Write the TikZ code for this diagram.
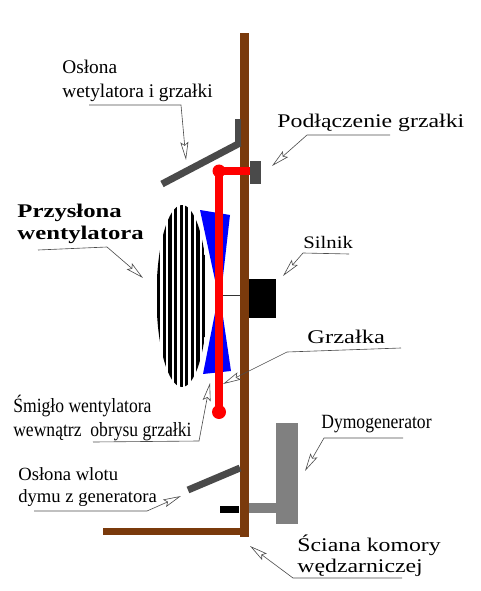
\documentclass[tikz,border=0pt]{standalone}
\usepackage{fontspec}
\setmainfont{Liberation Serif}
\usepackage{xcolor}
\usetikzlibrary{arrows.meta, positioning}
\definecolor{wallcol}{HTML}{7A3A0C}
\definecolor{shieldcol}{HTML}{4A4A4A}
\definecolor{gencol}{HTML}{808080}
\begin{document}
\begin{tikzpicture}[
    x=0.02cm, y=-0.02cm,
    lab/.style={anchor=base west, inner sep=0pt, font=\fontsize{10}{12}\selectfont},
    biglab/.style={lab, font=\fontsize{11}{13}\selectfont},
    widelab/.style={lab, font=\fontsize{11}{13}\selectfont, xscale=1.23},
    tall/.style={lab, font=\fontsize{11.5}{14}\selectfont, xscale=0.87},
    leader/.style={draw=black!70, line width=0.35pt, -{Stealth[fill=white, length=3.6mm, width=1.6mm, inset=0.6mm, line width=0.35pt]}},
    shield/.style={draw=shieldcol, line width=0.14cm},
    heater/.style={draw=red, line width=0.17cm},
    part/.style={rectangle, inner sep=0pt, anchor=north west}
]
\useasboundingbox (0,0) rectangle (480,591);
% fan shutter and blade
\fill[blue] (200,210) -- (230,215) -- (222,285) -- (215,280) -- cycle;
\fill[blue] (203,374) -- (231,371) -- (222,310) -- (215,313) -- cycle;
\draw[white, line width=0.06cm] (182,296) ellipse (26.5 and 92.5);
\begin{scope}
\clip (182,296) ellipse (25.5 and 91);
\foreach \i in {0,...,9} \fill (157.2+5.6*\i,200) rectangle ++(3.1,192);
\end{scope}
% shaft
\coordinate (shaftL) at (223,295);
\coordinate (shaftR) at (240,295);
\draw[black!80, line width=0.4pt] (shaftL) -- (shaftR);
% walls
\node[part, fill=wallcol, minimum width=0.18cm, minimum height=10.08cm] (wall) at (240,33) {};
\node[part, fill=wallcol, minimum width=2.74cm, minimum height=0.14cm] (floor) at (103,528) {};
% shields
\coordinate (shieldA) at (162,184);
\coordinate (shieldB) at (240,143);
\coordinate (shieldC) at (188,490);
\coordinate (shieldD) at (240,468);
\draw[shield] (shieldA) -- (shieldB);
\draw[shield] (shieldC) -- (shieldD);
\node[part, fill=shieldcol, minimum width=0.11cm, minimum height=0.54cm] (shieldtop) at (235,119) {};
% heater
\node[part, fill=shieldcol, minimum width=0.22cm, minimum height=0.46cm] (socket) at (250,161) {};
\coordinate (heatT) at (219,171);
\coordinate (heatB) at (219,412);
\coordinate (heatS) at (250,171);
\draw[heater] (heatS) -- (heatT) -- (heatB);
\fill[red] (heatT) circle (6.5);
\fill[red] (heatB) circle (7);
% motor and generator
\node[part, fill=black, minimum width=0.54cm, minimum height=0.78cm] (motor) at (249,279) {};
\node[part, fill=gencol, minimum width=0.44cm, minimum height=2.02cm] (generator) at (276,423) {};
\node[part, fill=gencol, minimum width=0.54cm, minimum height=0.2cm] (pipe) at (249,503) {};
\node[part, fill=black, minimum width=0.38cm, minimum height=0.13cm] (inlet) at (220,506) {};
% labels
\node[biglab] (oslonaA) at (62,74) {Osłona};
\node[biglab] (oslonaB) at (62,98) {wetylatora i grzałki};
\node[widelab, xscale=1.04] (przyslA) at (17,217) {\textbf{Przysłona}};
\node[widelab, xscale=1.04] (przyslB) at (17,239) {\textbf{wentylatora}};
\node[widelab] (podl) at (277,128) {Podłączenie grzałki};
\node[lab, xscale=1.18] (silnik) at (303,248) {Silnik};
\node[widelab, xscale=1.03] (grzalka) at (307,343) {Grzałka};
\node[tall] (smigloA) at (13,412) {Śmigło wentylatora};
\node[tall] (smigloB) at (13,436) {wewnątrz\ \ obrysu grzałki};
\node[lab, font=\fontsize{10.6}{13}\selectfont] (wlotA) at (18,480) {Osłona wlotu};
\node[lab, font=\fontsize{10.6}{13}\selectfont] (wlotB) at (18,502) {dymu z generatora};
\node[tall] (dymo) at (321,428) {Dymogenerator};
\node[widelab] (scianaA) at (297,551) {Ściana komory};
\node[widelab] (scianaB) at (297,572) {wędzarniczej};
% leaders
\coordinate (l1a) at (89,105);  \coordinate (l1b) at (181,105); \coordinate (l1c) at (186,160);
\coordinate (l2a) at (38,250);  \coordinate (l2b) at (107,247); \coordinate (l2c) at (143,278);
\coordinate (l3a) at (390,135); \coordinate (l3b) at (307,135); \coordinate (l3c) at (272,166);
\coordinate (l4a) at (349,254); \coordinate (l4b) at (303,253); \coordinate (l4c) at (283,276);
\coordinate (l5a) at (401,348); \coordinate (l5b) at (287,352); \coordinate (l5c) at (223,384);
\coordinate (l6a) at (93,442);  \coordinate (l6b) at (199,441); \coordinate (l6c) at (210,383);
\coordinate (l7a) at (34,511);  \coordinate (l7b) at (147,511); \coordinate (l7c) at (181,496);
\coordinate (l8a) at (403,438); \coordinate (l8b) at (324,438); \coordinate (l8c) at (305,471);
\coordinate (l9a) at (402,578); \coordinate (l9b) at (293,578); \coordinate (l9c) at (250,546);
\foreach \n in {1,...,9} \draw[leader] (l\n a) -- (l\n b) -- (l\n c);
\end{tikzpicture}
\end{document}
